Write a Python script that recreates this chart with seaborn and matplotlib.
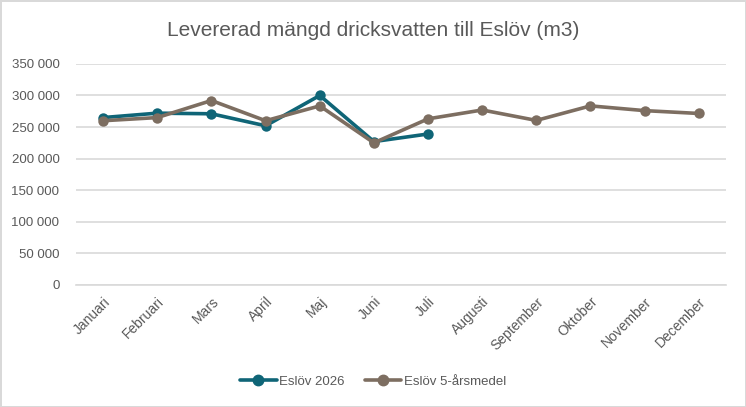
import pandas as pd
import matplotlib.pyplot as plt
import seaborn as sns

# Monthly values (m3)
months = ['Januari', 'Februari', 'Mars', 'April', 'Maj', 'Juni', 'Juli',
          'Augusti', 'September', 'Oktober', 'November', 'December']
eslov_2026 = [265000, 272000, 271000, 252000, 300000, 227000, 239000]
eslov_5yr = [260000, 265000, 292000, 260000, 283500, 225000, 263000,
             277000, 260500, 283500, 276000, 271500]

series_names = ['Eslöv 2026', 'Eslöv 5-årsmedel']
colors = ['#0F6577', '#7D6E61']

# Long-form table for seaborn
df = pd.concat([
    pd.DataFrame({'month': months[:len(eslov_2026)], 'value': eslov_2026, 'series': series_names[0]}),
    pd.DataFrame({'month': months, 'value': eslov_5yr, 'series': series_names[1]}),
])
df['month'] = pd.Categorical(df['month'], categories=months, ordered=True)
df['pos'] = df['month'].cat.codes

sns.set_style('white')
plt.rcParams['font.family'] = ['Liberation Sans', 'DejaVu Sans']

fig = plt.figure(figsize=(7.46, 4.07), dpi=100, edgecolor='#d9d9d9', linewidth=2)
ax = fig.add_axes([0.102, 0.300, 0.871, 0.543])

sns.lineplot(data=df, x='pos', y='value', hue='series', hue_order=series_names,
             palette=colors, marker='o', markersize=7.5, markeredgewidth=0,
             linewidth=2.6, ax=ax, legend=False, zorder=3)

# the 5-year average sits on top of the 2026 line
ax.lines[-1].set_zorder(4)

ax.set_xlim(-0.5, len(months) - 0.5)
ax.set_ylim(0, 350000)
ax.set_yticks(range(0, 350001, 50000))
ax.set_yticklabels([f'{v:,}'.replace(',', ' ') for v in range(0, 350001, 50000)])
ax.set_xticks(range(len(months)))
ax.set_xticklabels(months, rotation=45, ha='right', rotation_mode='anchor')

ax.tick_params(axis='both', length=0, colors='#595959')
ax.tick_params(axis='y', pad=12, labelsize=9.5)
ax.tick_params(axis='x', pad=7, labelsize=10)
ax.grid(True, axis='y', color='#d9d9d9', linewidth=1.2)
ax.set_axisbelow(True)
for side in ['top', 'right', 'left']:
    ax.spines[side].set_visible(False)
ax.spines['bottom'].set_color('#d9d9d9')
ax.spines['bottom'].set_linewidth(1.2)
ax.set_xlabel('')
ax.set_ylabel('')

fig.text(0.5, 0.925, 'Levererad mängd dricksvatten till Eslöv (m3)',
         ha='center', va='center', fontsize=15, color='#595959')

handles = [plt.Line2D([], [], color=c, marker='o', markersize=7.5, linewidth=2.6)
           for c in colors]
fig.legend(handles, series_names, loc='center', bbox_to_anchor=(0.5, 0.062),
           ncol=2, frameon=False, fontsize=9.5, labelcolor='#595959',
           handlelength=2.8, handletextpad=0.2, columnspacing=1.5)

fig.savefig('out.png', dpi=100, edgecolor=fig.get_edgecolor())
